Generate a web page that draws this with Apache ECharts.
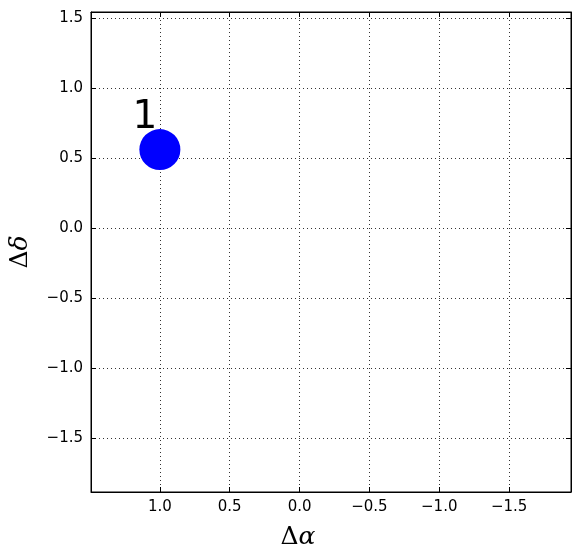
<!DOCTYPE html>
<html>
<head>
<meta charset="utf-8">
<script src="https://cdn.jsdelivr.net/npm/echarts@6/dist/echarts.min.js"></script>
<style>html,body{margin:0;padding:0;background:#fff;}#c{width:580px;height:560px;}</style>
</head>
<body>
<div id="c"></div>
<script>
const xVals = [1.0];
const yVals = [0.56];
const pointLabels = ['1'];
const xTicks = [1.0, 0.5, 0.0, -0.5, -1.0, -1.5];
const yTicks = [-1.5, -1.0, -0.5, 0.0, 0.5, 1.0, 1.5];
const xRange = [-1.943, 1.493];
const yRange = [-1.886, 1.543];

const fmt = v => (v < 0 ? '\u2212' : '') + Math.abs(v).toFixed(1);
const grid = {type: [1, 3], color: '#333', width: 1};

const chart = echarts.init(document.getElementById('c'), null, {renderer: 'canvas'});
const baseAxis = (pos, range, ticks, inverse, showLabel) => ({
  type: 'value', position: pos, min: range[0], max: range[1], inverse: inverse,
  axisLine: {show: true, onZero: false, lineStyle: {color: '#000', width: 1}},
  axisTick: {show: true, inside: true, length: 5, customValues: ticks, lineStyle: {color: '#000'}},
  axisLabel: {show: showLabel, customValues: ticks, formatter: fmt, color: '#000',
    fontFamily: 'DejaVu Sans', fontSize: 15, margin: 8},
  splitLine: {show: showLabel, lineStyle: grid}
});
const xa0 = baseAxis('bottom', xRange, xTicks, true, true);
xa0.name = '{d|\u0394}{a|\u03b1}';
xa0.nameLocation = 'middle';
xa0.nameGap = 33;
xa0.nameTextStyle = {padding: [0, 66, 0, 0], rich: {
  d: {fontFamily: 'DejaVu Serif', fontSize: 25, color: '#000'},
  a: {fontFamily: 'DejaVu Serif', fontStyle: 'italic', fontSize: 25, color: '#000'}}};
const ya0 = baseAxis('left', yRange, yTicks, false, true);
ya0.name = '{d|\u0394}{a|\u03b4}';
ya0.nameLocation = 'middle';
ya0.nameGap = 58;
ya0.nameRotate = 90;
ya0.nameTextStyle = {rich: {
  d: {fontFamily: 'DejaVu Serif', fontSize: 25, color: '#000'},
  a: {fontFamily: 'DejaVu Serif', fontStyle: 'italic', fontSize: 25, color: '#000'}}};

chart.setOption({
  animation: false,
  backgroundColor: '#fff',
  grid: {left: 91, right: 9, top: 12, bottom: 68, show: true, borderColor: '#000', borderWidth: 1},
  xAxis: [xa0, baseAxis('top', xRange, xTicks, true, false)],
  yAxis: [ya0, baseAxis('right', yRange, yTicks, false, false)],
  series: [{
    type: 'scatter',
    symbolSize: 41,
    itemStyle: {color: '#0000ff', opacity: 1},
    data: xVals.map((x, i) => ({value: [x, yVals[i]], name: pointLabels[i]})),
    label: {show: true, position: 'inside', offset: [-15, -32], formatter: p => p.name,
      fontFamily: 'DejaVu Sans', fontSize: 39, color: '#000'}
  }]
});
</script>
</body>
</html>
